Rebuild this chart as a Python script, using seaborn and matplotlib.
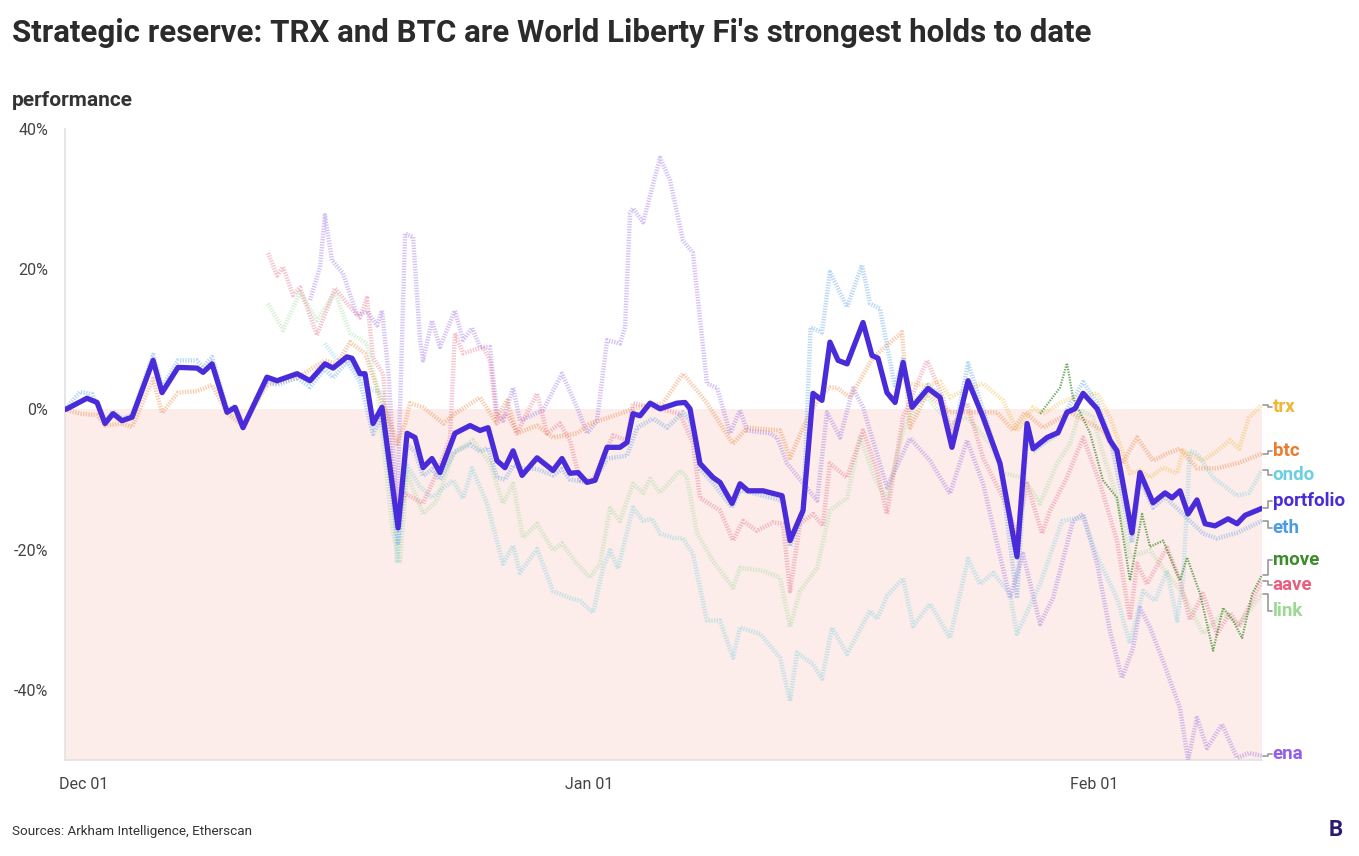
import pandas as pd
import seaborn as sns
import matplotlib.pyplot as plt
import matplotlib.dates as mdates
import matplotlib.transforms as mtransforms

# day offsets are counted from Dec 01 2024, values are performance in %
start = pd.Timestamp("2024-12-01")

portfolio_days = [-1.17, -1.04, 0.18, 0.80, 1.29, 1.78, 2.33, 2.95, 4.24, 4.79, 5.77, 6.94, 7.31, 7.86,
                  8.78, 9.27, 9.76, 11.23, 11.85, 13.08, 13.87, 14.79, 15.29, 16.14, 16.45, 16.94, 17.25,
                  17.74, 18.29, 19.28, 19.83, 20.32, 20.81, 21.36, 21.85, 22.77, 23.70, 24.31, 24.80,
                  25.35, 25.84, 26.34, 26.89, 27.81, 28.79, 29.34, 29.83, 30.33, 30.88, 31.37, 32.11,
                  32.90, 33.33, 33.70, 34.13, 34.75, 35.36, 36.40, 36.89, 37.20, 37.81, 38.61, 39.04,
                  39.78, 40.27, 40.76, 41.68, 42.85, 43.34, 44.14, 44.75, 45.30, 45.79, 46.29, 46.84,
                  47.82, 48.37, 48.74, 49.29, 49.79, 50.28, 50.83, 51.81, 52.55, 53.28, 54.27, 55.19,
                  56.23, 57.27, 57.89, 58.26, 59.12, 59.79, 60.34, 60.83, 61.33, 62.19, 62.98, 63.41,
                  64.33, 64.82, 65.62, 66.36, 66.79, 67.28, 67.77, 68.32, 68.82, 69.43, 70.23, 70.78,
                  71.27, 72.31]
portfolio_vals = [0, 0.1, 1.6, 1.0, -2, -0.6, -1.6, -1.1, 7, 2.4, 6, 5.9, 5.3, 6.5,
                  -0.4, 0.3, -2.6, 4.6, 4.1, 5.1, 4.1, 6.5, 5.9, 7.5, 7.3, 5.1, 5.1,
                  -2, 0.3, -16.9, -3.4, -4, -8.3, -7, -9, -3.4, -2.3, -3, -2.6,
                  -7.3, -8.3, -5.9, -9.4, -6.9, -8.7, -7, -9.1, -9, -10.4, -10.1, -5.4,
                  -5.4, -4.7, -0.6, -0.9, 0.9, 0.1, 0.9, 1.0, 0.1, -7.7, -9.7, -10.4,
                  -13.4, -10.6, -11.6, -11.6, -12.3, -18.7, -14.4, 2.3, 1.3, 9.6, 7, 6.5,
                  12.4, 7.7, 7.3, 2.4, 1.0, 6.7, 0.3, 3, 1.7, -5.4, 4.1, -1.1,
                  -7.7, -21, -2, -5.6, -4, -3.3, -0.4, 0.1, 2.3, 0.1, -4.4, -5.9,
                  -17.6, -9, -13.3, -11.9, -12.6, -11.6, -14.9, -12.9, -16.3, -16.6, -15.6, -16.3,
                  -15.1, -14.1]

eth_days = [-1.17, -0.25, 0.5, 1.29, 1.78, 2.33, 2.95, 4.24, 4.79, 5.77, 6.94, 7.31, 7.86, 8.78, 9.27,
            9.76, 11.23, 11.85, 13.08, 13.87, 14.79, 15.29, 16.14, 16.94, 17.74, 18.29, 19.28, 19.83,
            20.32, 20.81, 21.36, 21.85, 22.77, 23.70, 24.31, 24.80, 25.35, 25.84, 26.34, 26.89, 27.81,
            28.79, 29.34, 29.83, 30.88, 31.37, 32.11, 33.33, 33.95, 34.93, 35.79, 36.77, 37.20, 37.81,
            38.61, 39.78, 40.27, 41.68, 42.85, 43.34, 44.14, 44.60, 45.30, 45.79, 46.84, 47.76, 48.25,
            48.86, 49.79, 50.28, 50.83, 51.81, 52.55, 53.28, 54.27, 55.19, 56.23, 57.27, 57.89, 58.26,
            59.12, 59.79, 60.34, 61.33, 62.19, 62.98, 64.33, 64.82, 65.62, 66.36, 67.46, 68.69, 69.55,
            70.78, 72.31]
eth_vals = [0, 2.5, 2.2, -1.8, -0.3, -1.3, -0.8, 7.8, 3.2, 7, 7, 6, 7.5, 0, 0.5,
            -2.3, 4, 3.5, 4.5, 3.2, 5.8, 4.5, 6.8, 4, -3.5, -1, -19, -5,
            -6, -9.5, -8.5, -10, -6, -5, -6, -5.5, -9.7, -10, -8, -8.4, -8.5,
            -9.4, -8.5, -10, -10.4, -10.1, -7, -6.6, -2.6, -1.3, -2.6, -0.4, -1.6, -8.5,
            -10.5, -14, -11.5, -12.3, -13, -19.5, -15, 11.7, 11, 19.6, 14.6, 20.6, 15.1,
            14.4, 3.1, 7.4, 0.6, 3.5, 2, -5, 6.6, 0, -8, -26.9, -3, -6,
            -4.5, -3.5, 0, 3.9, 1, -4, -19, -10, -14, -12.5, -14.9, -17.7, -18.4,
            -17.6, -15.9]

btc_days = [-1.17, -0.25, 0.8, 1.29, 2.33, 2.95, 4.24, 4.79, 5.77, 6.94, 7.86, 8.78, 9.76, 11.23,
            13.08, 14.79, 15.53, 16.33, 17.25, 17.99, 18.97, 19.21, 19.71, 20.01, 20.81, 22.06, 22.77,
            24.31, 25.23, 25.97, 26.58, 27.81, 28.79, 30.26, 31.06, 32.29, 33.95, 35.54, 36.77, 37.63,
            38.24, 39.84, 40.70, 42.73, 43.34, 44.14, 45.18, 45.79, 46.22, 47.02, 48.43, 50.21, 50.71,
            51.75, 53.16, 56.05, 57.03, 57.76, 58.87, 60.53, 62.55, 63.72, 64.64, 65.62, 66.48, 67.28,
            68.32, 69.55, 70.90, 72.31]
btc_vals = [0, -0.6, -0.8, -2.3, -2, -2.5, 4.4, -0.5, 2.4, 2.6, 3.5, -0.5, -2.3, 3.5,
            4.5, 7, 6.5, 9.6, 8, 3, -3, -4.9, -2, 0.9, 0.3, -2, -0.6,
            1.7, -1.6, 1.3, -3.4, -2.3, -4, -3.4, -2, -1.1, 0.3, 0.9, 5.1, 2.7,
            0.9, -4.9, -2.6, -3, -6.9, -2.6, 2, 3.1, 3.1, 1.7, 7.4, 11, -2.6,
            2.3, -0.4, -0.4, -3, -0.4, -2.6, -0.4, -3, -7.7, -4, -7.3, -6.3, -5.6,
            -8.4, -8.4, -7.6, -6.3]

trx_days = [49.48, 50.21, 50.71, 51.75, 52.55, 53.16, 54.27, 55.19, 56.41, 57.27, 58.26, 58.87,
            59.91, 60.71, 62.19, 62.98, 64.21, 64.82, 65.44, 66.24, 67.10, 67.46, 68.69, 69.55,
            70.35, 70.90, 71.52, 72.31]
trx_vals = [1.3, 4, 3.7, 3.4, 4, 1.7, 3, 3.7, 1.3, -3, 0.3, -0.6,
            0.9, 1.7, 2.3, -1.1, -9.1, -8.7, -9.7, -8.3, -9.1, -5.9, -7.3, -5.9,
            -4.4, -5.6, -1.1, 0.6]

aave_days = [11.30, 11.85, 12.22, 12.83, 13.26, 14.30, 15.41, 16.33, 16.94, 17.37, 17.74, 18.35,
             19.21, 19.71, 20.81, 21.85, 22.47, 22.77, 23.27, 24.49, 24.92, 25.35, 25.97, 26.58,
             27.81, 28.42, 29.22, 29.83, 30.45, 31.25, 32.47, 33.33, 33.70, 34.93, 36.59, 37.38,
             37.81, 39.04, 39.84, 40.45, 41.31, 42.30, 42.91, 43.34, 43.95, 44.75, 45.36, 45.67,
             45.79, 46.84, 47.82, 48.68, 49.29, 50.28, 51.75, 52.73, 53.16, 54.21, 55.19, 56.41,
             57.27, 57.89, 58.81, 59.30, 60.34, 61.33, 62.37, 63.41, 64.21, 64.64, 65.25, 66.48,
             67.28, 67.89, 68.69, 69.55, 70.35, 70.90, 72.31]
aave_vals = [22.3, 19.1, 20.3, 16.3, 17.4, 10.6, 17.3, 14.6, 13.1, 15.9, 7.4, 5.1,
             -15.4, -12, -13.4, -8, -4, 10.9, 8, 8.9, 7, -2, -0.6, -3.4,
             2.3, -3.4, -2, -4.4, -10.1, -10, -3.7, -4.4, 0.9, 0.3, -0.6, -4.9,
             -12.6, -14.4, -18.7, -15.9, -17.3, -16.1, -16.3, -25.9, -16.3, -14.9, -16.6, -10,
             -7.7, -9.7, -3, -8.7, -14.9, -1.1, 7, 1.7, -3, 0.9, -6.9, -12.6,
             -17.7, -10.6, -17.7, -14.4, -9.7, -4, -10.6, -18.7, -30, -22, -24.9, -19.7,
             -24.4, -30, -26.3, -32, -29, -31, -24.4]

link_days = [11.30, 12.22, 13.26, 14.30, 15.41, 16.33, 17.37, 17.99, 18.97, 19.40, 19.83, 20.81,
             21.67, 22.65, 23.88, 24.92, 25.72, 26.34, 26.95, 27.81, 28.79, 29.34, 30.26, 31.06,
             31.68, 32.29, 32.90, 33.70, 34.32, 34.75, 35.36, 36.59, 37.02, 37.63, 38.61, 39.84,
             40.27, 41.68, 42.73, 43.34, 43.95, 45.00, 45.79, 46.84, 47.64, 48.68, 49.29, 50.28,
             51.14, 51.75, 53.16, 54.21, 55.62, 56.41, 57.64, 58.69, 59.73, 60.53, 61.14, 61.94,
             62.55, 63.41, 64.21, 65.44, 66.48, 67.46, 68.69, 69.92, 70.90, 72.31]
link_vals = [15.1, 11.3, 16.7, 12.7, 16.7, 10.9, 9.4, 3.1, -17.7, -21.6, -9.1, -14.9,
             -13, -6.3, -4.4, -7.7, -13.4, -10.6, -18.3, -16.3, -20.1, -19.1, -22, -24,
             -22, -14.1, -15.9, -10.6, -11.9, -9.9, -11.9, -8.7, -9.7, -17.7, -21.6, -25.4,
             -22.6, -23, -24, -31, -25.9, -22.6, -14.4, -12.6, -4, -10.6, -12.6, -3,
             0.9, 1.7, -2, -1.1, -4.9, -9.1, -9.7, -13.4, -7.7, -4.9, -0.1, -1.1,
             -6.3, -12.6, -21, -20.1, -23.4, -26.3, -32, -29.1, -30.6, -26.3]

ondo_days = [14.79, 15.53, 16.33, 17.37, 18.35, 18.97, 19.21, 19.83, 20.63, 21.36, 21.85, 22.65,
             23.27, 23.82, 24.74, 25.72, 26.34, 26.76, 27.81, 28.79, 29.83, 30.45, 31.25, 31.86,
             32.29, 32.78, 33.70, 34.32, 34.87, 35.36, 36.16, 36.77, 37.38, 38.24, 39.04, 39.84,
             40.27, 41.50, 42.73, 43.34, 43.77, 44.75, 45.30, 45.92, 46.84, 48.25, 48.68, 49.29,
             50.28, 50.89, 51.93, 53.16, 54.27, 55.00, 55.80, 56.84, 57.27, 58.69, 60.04, 61.33,
             62.19, 63.41, 64.21, 65.01, 65.75, 66.48, 67.10, 67.46, 67.89, 68.32, 69.31, 70.78,
             71.52, 72.31]
ondo_vals = [9.4, 7, 7, 3.1, 2.3, -10, -21.6, -8, -11, -12.6, -11.6, -10.1,
             -12.7, -8.4, -13.4, -22, -19.4, -23.3, -19.9, -25.9, -26.9, -27.3, -29, -22.6,
             -20.1, -22.7, -14, -15.9, -15.6, -17.7, -18.3, -18.4, -20.6, -30.1, -30.1, -35.4,
             -31.1, -32, -35.4, -41.6, -34.7, -36.3, -38.4, -31.1, -34.9, -28.7, -29.9, -26.6,
             -24.1, -30.9, -27.7, -32.6, -21.3, -24.9, -23.3, -26.3, -32, -24.9, -15.9, -15.4,
             -21, -26.9, -33.4, -25.9, -27.3, -23, -30.1, -24.4, -5.9, -6.3, -9.7, -12.3,
             -11.9, -8.7]

move_days = [58.69, 59.91, 60.34, 60.71, 61.76, 62.55, 63.41, 64.21, 64.95, 65.44, 66.24, 67.28,
             67.71, 68.51, 69.31, 69.92, 70.53, 71.09, 71.71, 72.31]
move_vals = [-0.6, 3.1, 6.6, 1.7, -3.4, -10.1, -12.6, -24.4, -14.9, -19.6, -18.7, -24.4,
             -21.1, -26.3, -34.4, -28.3, -30.1, -32.6, -26.3, -23.6]

ena_days = [13.87, 14.49, 14.79, 15.22, 15.90, 16.76, 17.37, 17.99, 18.29, 18.70, 19.21, 19.71,
            20.20, 20.63, 20.81, 21.36, 21.85, 22.77, 23.27, 23.82, 24.31, 24.92, 25.35, 25.72,
            26.34, 26.76, 28.18, 29.34, 30.26, 30.88, 31.49, 32.11, 32.90, 33.21, 33.52, 33.70,
            34.32, 35.36, 35.97, 36.77, 37.38, 38.24, 38.86, 39.66, 40.27, 40.70, 42.11, 42.54,
            43.16, 45.00, 45.61, 46.41, 47.21, 47.82, 49.29, 50.71, 51.93, 53.16, 54.21, 55.19,
            56.84, 57.64, 58.69, 59.48, 60.71, 61.33, 62.19, 62.98, 63.72, 64.40, 64.82, 65.44,
            66.24, 67.28, 67.77, 68.32, 68.94, 69.86, 70.78, 71.52, 72.31]
ena_vals = [15.6, 20.3, 27.7, 21.3, 19.4, 13.4, 14, 12, 14.1, 5, -14.9, 25.1,
            24.6, 9.9, 7, 12.7, 8.9, 14.1, 9.9, 11.6, 8.9, 8.9, -0.6, -1.6,
            3.1, -1.6, -0.1, 5.1, 0.3, -3.4, -1.6, 9.9, 9.4, 11.7, 28, 28.7,
            26.7, 35.9, 32.7, 24.1, 22.3, 3.7, 3.1, -3.4, -0.1, -3, -3.4, -4,
            -7.7, -13, -0.4, -4, 3, 0.3, -11.1, -4.1, -7.3, -12, -4.4, -10.6,
            -26.9, -20.6, -30.6, -26.9, -15.9, -14.9, -22, -31.6, -38.3, -34, -28.3, -31.1,
            -35.9, -42.6, -50, -44, -48.3, -44.9, -49.7, -49, -49.4]

# end labels on the right and where they sit (%)
label_names = ["trx", "btc", "ondo", "portfolio", "eth", "move", "aave", "link", "ena"]
label_pos = [0.4, -5.9, -9.4, -13.1, -16.9, -21.4, -25.0, -28.7, -49.1]

colors = {
    "trx": "#f2b632", "btc": "#ec7b2c", "ondo": "#6ccfe0", "portfolio": "#4a2bd9",
    "eth": "#4a9ae6", "move": "#3d8b2a", "aave": "#e6607f", "link": "#9ad992", "ena": "#9160e6",
}

series = {
    "ena": (ena_days, ena_vals),
    "ondo": (ondo_days, ondo_vals),
    "link": (link_days, link_vals),
    "aave": (aave_days, aave_vals),
    "btc": (btc_days, btc_vals),
    "eth": (eth_days, eth_vals),
    "trx": (trx_days, trx_vals),
    "move": (move_days, move_vals),
    "portfolio": (portfolio_days, portfolio_vals),
}


def to_frame(days, vals):
    df = pd.DataFrame({"day": days, "perf": vals})
    df["date"] = start + pd.to_timedelta(df["day"], unit="D")
    return df


sns.set_theme(style="white")
plt.rcParams["font.family"] = ["Roboto", "DejaVu Sans"]

fig = plt.figure(figsize=(13.59, 8.56), dpi=100)
ax = fig.add_axes([0.0478, 0.1121, 0.8808, 0.7372])

# shaded negative zone
ax.axhspan(-50, 0, color="#fcecea", zorder=0, lw=0)

for name, (days, vals) in series.items():
    df = to_frame(days, vals)
    if name == "portfolio":
        sns.lineplot(data=df, x="date", y="perf", ax=ax, color=colors[name], lw=3.8,
                     zorder=10, solid_capstyle="round", solid_joinstyle="round")
    elif name == "move":
        sns.lineplot(data=df, x="date", y="perf", ax=ax, color=colors[name], lw=1.6,
                     alpha=0.75, linestyle=(0, (0.6, 0.6)), zorder=6)
    else:
        sns.lineplot(data=df, x="date", y="perf", ax=ax, color=colors[name], lw=3.2,
                     alpha=0.38, linestyle=(0, (0.3, 0.3)), zorder=5)

ax.set_xlim(start + pd.Timedelta(days=-1.17), start + pd.Timedelta(days=72.31))
ax.set_ylim(-50, 40)
ax.set_yticks([-40, -20, 0, 20, 40])
ax.set_yticklabels(["-40%", "-20%", "0%", "20%", "40%"])
ax.xaxis.set_major_locator(mdates.MonthLocator(bymonthday=1))
ax.xaxis.set_major_formatter(mdates.DateFormatter("%b %d"))
ax.set_xlabel("")
ax.set_ylabel("")

for s in ["top", "right"]:
    ax.spines[s].set_visible(False)
for s in ["left", "bottom"]:
    ax.spines[s].set_color("#e2e2e2")
    ax.spines[s].set_linewidth(1.2)
ax.tick_params(axis="both", colors="#e2e2e2", labelcolor="#444444", labelsize=11.5,
               length=8, width=1.2, direction="out")
ax.tick_params(axis="y", pad=4)
ax.tick_params(axis="x", pad=4)

# right side labels with small bracket connectors
trans = mtransforms.blended_transform_factory(ax.transAxes, ax.transData)
end_vals = {name: vals[-1] for name, (days, vals) in series.items()}
for name, pos in zip(label_names, label_pos):
    ev = end_vals[name]
    ax.plot([1.001, 1.005, 1.005, 1.008], [ev, ev, pos, pos], transform=trans,
            color="#9a9a9a", lw=1.2, clip_on=False, zorder=1)
    ax.text(1.009, pos, name, transform=trans, color=colors[name], fontsize=13.5,
            fontweight="bold", va="center", ha="left")

fig.text(0.009, 0.962, "Strategic reserve: TRX and BTC are World Liberty Fi's strongest holds to date",
         fontsize=22.5, fontweight="bold", color="#2b2b2b", va="center", ha="left")
fig.text(0.009, 0.883, "performance", fontsize=15, fontweight="bold", color="#333333",
         va="center", ha="left")
fig.text(0.009, 0.029, "Sources: Arkham Intelligence, Etherscan", fontsize=9.7, color="#333333",
         va="center", ha="left")
fig.text(0.983, 0.030, "B", fontsize=16, fontweight="bold", color="#2a1b6e", va="center", ha="center")

fig.savefig("out.png", dpi=100)
